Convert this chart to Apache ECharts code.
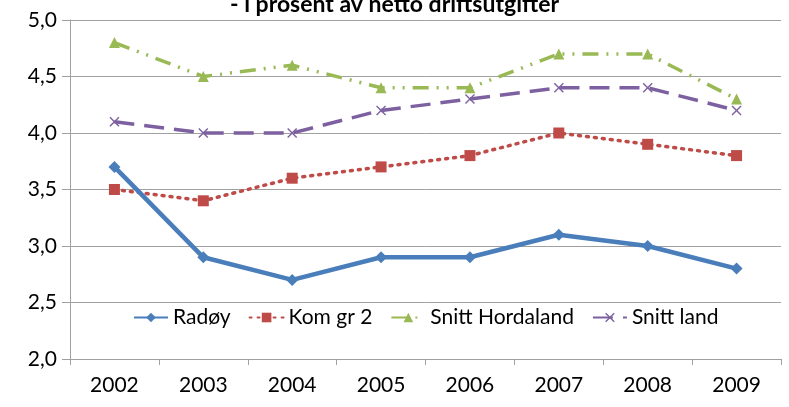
<!DOCTYPE html>
<html>
<head>
<meta charset="utf-8">
<script src="https://cdn.jsdelivr.net/npm/echarts@6/dist/echarts.min.js"></script>
<style>
  html, body { margin: 0; padding: 0; background: #fff; }
  #chart { width: 789px; height: 407px; }
</style>
</head>
<body>
<div id="chart"></div>
<script>
const years = ['2002', '2003', '2004', '2005', '2006', '2007', '2008', '2009']
const radoy = [3.7, 2.9, 2.7, 2.9, 2.9, 3.1, 3.0, 2.8]
const komGr2 = [3.5, 3.4, 3.6, 3.7, 3.8, 4.0, 3.9, 3.8]
const snittHordaland = [4.8, 4.5, 4.6, 4.4, 4.4, 4.7, 4.7, 4.3]
const snittLand = [4.1, 4.0, 4.0, 4.2, 4.3, 4.4, 4.4, 4.2]

const font = 'Lato, "Open Sans", sans-serif'
const crossSymbol = 'path://M1,0L5,4L9,0L10,1L6,5L10,9L9,10L5,6L1,10L0,9L4,5L0,1Z'

const chart = echarts.init(document.getElementById('chart'))

chart.setOption({
  animation: false,
  title: {
    text: '- i prosent av netto driftsutgifter',
    left: 'center',
    top: -12,
    textStyle: { fontFamily: font, fontSize: 23, fontWeight: 'bold', color: '#000' },
  },
  grid: { left: 70, right: 8, top: 20, bottom: 48 },
  legend: {
    top: 302,
    left: 128,
    itemWidth: 34,
    itemHeight: 12,
    itemGap: 18,
    textStyle: { fontFamily: font, fontSize: 21, color: '#000' },
    data: ['Radøy', 'Kom gr 2', 'Snitt Hordaland', 'Snitt land'],
  },
  xAxis: {
    type: 'category',
    data: years,
    boundaryGap: true,
    axisLine: { lineStyle: { color: '#a0a0a0', width: 1 } },
    axisTick: { show: true, length: 6, lineStyle: { color: '#a0a0a0' } },
    axisLabel: { fontFamily: font, fontSize: 21, color: '#000', margin: 16 },
  },
  yAxis: {
    type: 'value',
    min: 2,
    max: 5,
    interval: 0.5,
    axisLine: { show: true, lineStyle: { color: '#a0a0a0', width: 1 } },
    axisTick: { show: true, length: 8, lineStyle: { color: '#a0a0a0' } },
    splitLine: { lineStyle: { color: '#a0a0a0', width: 1 } },
    axisLabel: {
      fontFamily: font,
      fontSize: 21,
      color: '#000',
      margin: 13,
      formatter: v => v.toFixed(1).replace('.', ','),
    },
  },
  series: [
    {
      name: 'Radøy',
      type: 'line',
      data: radoy,
      symbol: 'diamond',
      symbolSize: 12,
      itemStyle: { color: '#4a7ebb' },
      lineStyle: { color: '#4a7ebb', width: 4.5 },
      z: 4,
    },
    {
      name: 'Kom gr 2',
      type: 'line',
      data: komGr2,
      symbol: 'rect',
      symbolSize: 11,
      itemStyle: { color: '#be4b48' },
      lineStyle: { color: '#be4b48', width: 3.5, type: [2, 6], cap: 'round' },
      z: 3,
    },
    {
      name: 'Snitt Hordaland',
      type: 'line',
      data: snittHordaland,
      symbol: 'triangle',
      symbolSize: 11,
      itemStyle: { color: '#98b954' },
      lineStyle: { color: '#98b954', width: 3.5, type: [16, 8, 2, 8, 2, 8] },
      z: 2,
    },
    {
      name: 'Snitt land',
      type: 'line',
      data: snittLand,
      symbol: crossSymbol,
      symbolSize: 10,
      itemStyle: { color: '#7d60a0' },
      lineStyle: { color: '#7d60a0', width: 3.5, type: [20, 10] },
      z: 1,
    },
  ],
})
</script>
</body>
</html>
